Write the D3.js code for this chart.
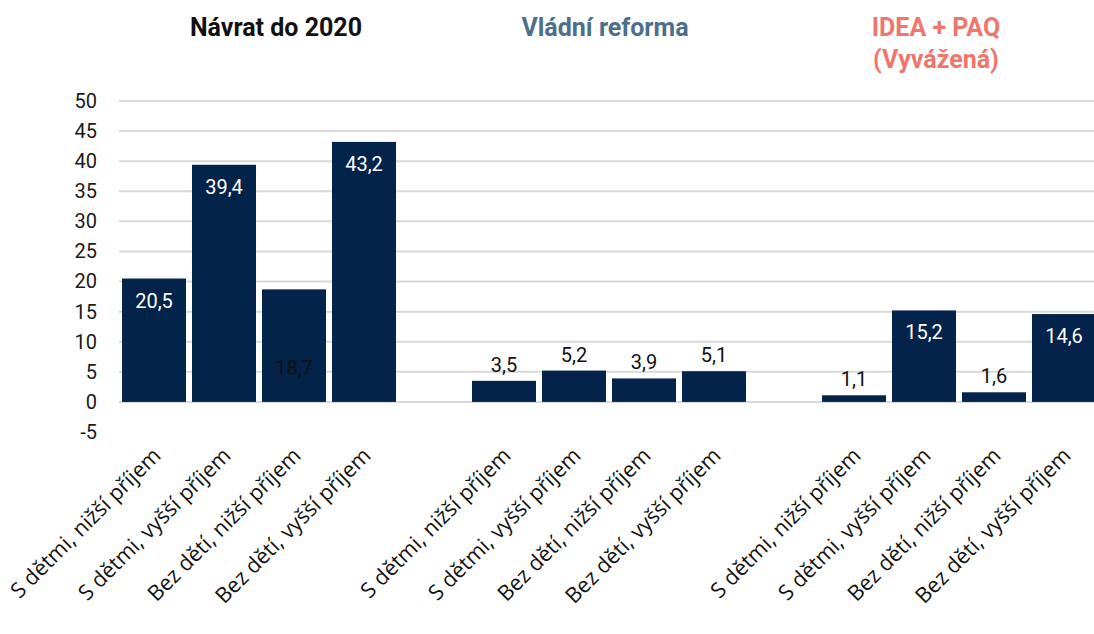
<!DOCTYPE html>
<html>
<head>
<meta charset="utf-8">
<script src="https://cdn.jsdelivr.net/npm/d3@7"></script>
<style>
  body { margin: 0; background: #fff; }
  svg { display: block; }
  .tick text { font-family: Roboto, "Noto Sans", sans-serif; }
</style>
</head>
<body>
<div id="chartHolder"></div>
<script>
const groups = ["Návrat do 2020", "Vládní reforma", "IDEA + PAQ (Vyvážená)"];
const categories = ["S dětmi, nižší příjem", "S dětmi, vyšší příjem", "Bez dětí, nižší příjem", "Bez dětí, vyšší příjem"];
const navrat = [20.5, 39.4, 18.7, 43.2];
const vladni = [3.5, 5.2, 3.9, 5.1];
const idea = [1.1, 15.2, 1.6, 14.6];
const yTicks = [-5, 0, 5, 10, 15, 20, 25, 30, 35, 40, 45, 50];

function GetChart(){
  const width = 1094;
  const height = 634;
  const navy = "#03234b";

  const svg = d3.select("#chartHolder")
    .append("svg")
    .attr("width", width)
    .attr("height", height);

  // one slot per bar, an empty slot between groups
  const rows = [];
  [navrat, vladni, idea].forEach((vals, g) => {
    vals.forEach((v, i) => rows.push({ key: g + "-" + i, group: g, cat: categories[i], value: v }));
    if (g < 2) rows.push({ key: "gap" + g, gap: true });
  });

  const xScale = d3.scaleBand()
    .domain(rows.map(d => d.key))
    .range([119, 1099])
    .paddingInner(0.086)
    .paddingOuter(0.043);

  const yScale = d3.scaleLinear()
    .domain([-5, 50])
    .range([432, 101]);

  // grid
  svg.append("g")
     .selectAll("line")
     .data(yTicks.filter(t => t >= 0))
     .enter()
     .append("line")
     .attr("x1", 119)
     .attr("x2", width)
     .attr("y1", d => yScale(d))
     .attr("y2", d => yScale(d))
     .style("stroke", "#d9d9d9")
     .style("stroke-width", 2);

  // y axis
  const yAxis = d3.axisLeft(yScale)
    .tickValues(yTicks)
    .tickSize(0)
    .tickPadding(0)
    .tickFormat(d => String(d));
  const yG = svg.append("g")
    .attr("transform", "translate(97,0)")
    .call(yAxis);
  yG.select(".domain").remove();
  yG.selectAll("text")
    .style("font-size", "20px")
    .style("fill", "#1a1a1a");

  const data = rows.filter(d => !d.gap);
  const isOdd = d => d.group === 0 && d.cat === categories[2];

  // bars
  svg.append("g")
     .selectAll("rect")
     .data(data)
     .enter()
     .append("rect")
     .attr("class", "bar")
     .attr("x", d => xScale(d.key))
     .attr("y", d => yScale(Math.max(0, d.value)))
     .attr("width", xScale.bandwidth())
     .attr("height", d => Math.abs(yScale(d.value) - yScale(0)))
     .style("fill", navy);

  // value labels
  svg.append("g")
     .selectAll("text")
     .data(data)
     .enter()
     .append("text")
     .attr("x", d => xScale(d.key) + xScale.bandwidth() / 2)
     .attr("y", d => {
       if (isOdd(d)) return yScale(0) - 27;
       if (d.value > 10) return yScale(d.value) + 29;
       return yScale(d.value) - 9;
     })
     .attr("text-anchor", "middle")
     .style("font-family", "Roboto, 'Noto Sans', sans-serif")
     .style("font-size", "20px")
     .style("fill", d => (d.value > 10 && !isOdd(d)) ? "#ffffff" : "#111111")
     .text(d => d3.format(".1f")(d.value).replace(".", ","));

  // category labels, rotated
  svg.append("g")
     .selectAll("text")
     .data(data)
     .enter()
     .append("text")
     .attr("transform", d => `translate(${xScale(d.key) + xScale.bandwidth() / 2 + 8},${457}) rotate(-45)`)
     .attr("text-anchor", "end")
     .style("font-family", "'Open Sans', 'Noto Sans', sans-serif")
     .style("font-size", "21.5px")
     .style("fill", "#111")
     .text(d => d.cat);

  // group titles
  const titleStyle = [
    { color: "#111111", dx: 17, lines: ["Návrat do 2020"] },
    { color: "#4d6e8c", dx: -4, lines: ["Vládní reforma"] },
    { color: "#f0756b", dx: -23, lines: ["IDEA + PAQ", "(Vyvážená)"] }
  ];
  groups.forEach((g, gi) => {
    const first = xScale(gi + "-0");
    const last = xScale(gi + "-3") + xScale.bandwidth();
    const cx = (first + last) / 2 + titleStyle[gi].dx;
    const t = svg.append("text")
      .attr("x", cx)
      .attr("y", 36)
      .attr("text-anchor", "middle")
      .style("font-family", "Roboto, 'Noto Sans', sans-serif")
      .style("font-weight", "bold")
      .style("font-size", "25px")
      .style("fill", titleStyle[gi].color);
    titleStyle[gi].lines.forEach((l, li) => {
      t.append("tspan").attr("x", cx).attr("dy", li === 0 ? 0 : 32).text(l);
    });
  });
}
GetChart();
</script>
</body>
</html>
